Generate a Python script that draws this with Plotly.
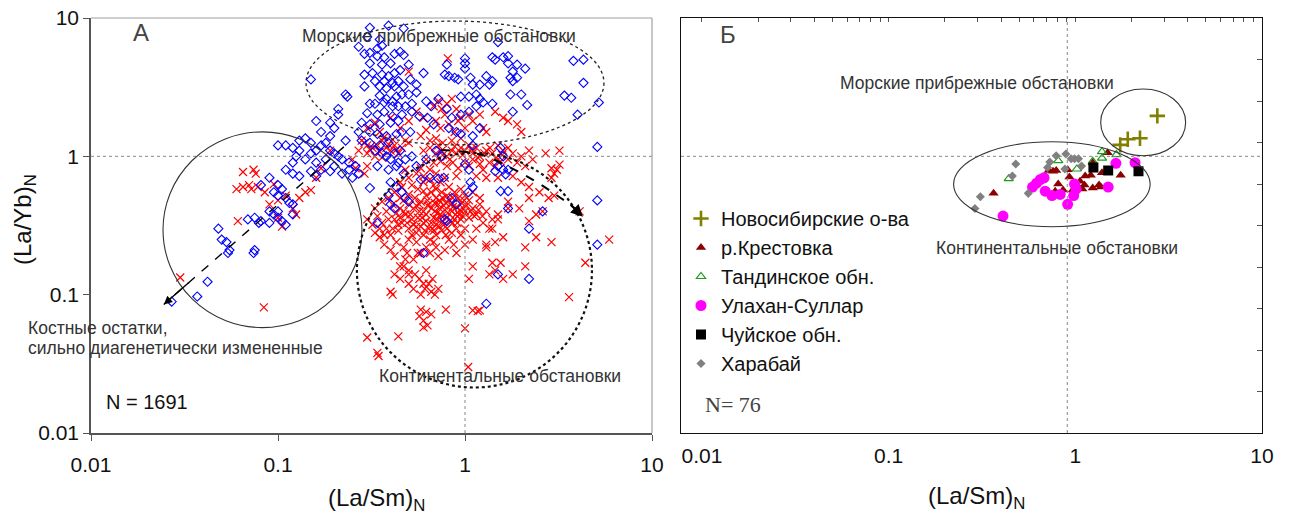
import math
import plotly.graph_objects as go

W, H = 1289, 518

# ---------------- Panel A data: (La/Sm)N , (La/Yb)N ----------------
blue_marine = [
    (0.39, 8.8), (0.31, 8.5), (0.47, 8.4), (0.30, 7.3), (0.35, 7.0), (0.27, 6.2), (0.34, 6.0), (0.36, 6.3),
    (0.29, 5.5), (0.31, 5.6), (0.34, 5.3), (0.37, 5.2), (0.42, 5.5), (0.45, 5.7), (0.47, 5.4), (0.31, 4.7),
    (0.36, 4.6), (0.40, 4.7), (0.50, 4.6), (0.29, 3.9), (0.32, 4.0), (0.36, 3.9), (0.39, 3.8), (0.42, 4.0),
    (0.45, 4.2), (0.33, 3.5), (0.37, 3.5), (0.41, 3.4), (0.44, 3.5), (0.51, 3.6), (0.55, 3.3), (0.60, 4.0),
    (0.29, 3.2), (0.35, 3.2), (0.38, 3.1), (0.42, 3.2), (0.47, 3.2), (0.15, 3.6), (0.23, 2.8), (0.235, 2.7),
    (0.35, 2.75), (0.38, 2.6), (0.41, 2.5), (0.43, 2.7), (0.46, 2.8), (0.50, 2.8), (0.55, 2.9), (0.31, 2.4),
    (0.33, 2.4), (0.37, 2.45), (0.41, 2.3), (0.44, 2.3), (0.48, 2.3), (0.52, 2.4), (0.21, 2.2), (0.21, 2.0),
    (0.30, 2.05), (0.34, 2.0), (0.37, 2.1), (0.41, 1.95), (0.46, 2.0), (0.52, 2.1), (0.57, 1.95), (0.16, 1.8),
    (0.19, 1.75), (0.28, 1.75), (0.31, 1.7), (0.35, 1.7), (0.40, 1.75), (0.44, 1.8), (0.27, 1.5), (0.31, 1.5),
    (0.34, 1.45), (0.38, 1.4), (0.43, 1.45), (0.46, 1.5), (0.51, 1.5),
]
blue_marine_right = [
    (1.5, 6.7), (1.4, 5.2), (1.45, 5.0), (1.6, 5.2), (1.7, 5.3), (1.7, 4.7), (1.9, 4.6), (2.1, 4.3), (1.8, 4.1),
    (1.0, 5.1), (1.0, 4.7), (1.0, 4.3), (0.8, 4.6), (0.78, 3.9), (0.82, 3.8), (0.88, 3.7), (0.92, 3.6),
    (1.07, 3.7), (1.1, 3.3), (1.2, 3.3), (1.3, 3.8), (1.4, 3.5), (1.35, 3.3), (1.75, 3.7), (1.8, 3.5), (1.9, 3.7),
    (0.95, 2.7), (1.05, 2.7), (1.15, 2.8), (1.2, 2.6), (1.25, 2.45), (1.4, 2.4), (1.75, 2.8), (2.0, 2.8),
    (2.15, 2.35), (1.8, 2.1), (3.8, 4.9), (4.3, 5.0), (4.3, 3.4), (3.4, 2.75), (3.7, 2.65), (4.0, 2.0), (5.2, 2.45),
    (0.8, 2.2), (0.85, 1.9), (0.95, 2.0), (1.05, 2.1), (1.15, 2.3), (0.82, 1.6), (0.9, 1.5), (1.2, 1.6),
    (1.1, 1.4), (0.95, 1.45), (0.63, 1.9), (0.68, 1.7), (0.62, 2.5), (0.66, 2.3), (0.72, 2.6),
]
blue_center = [
    (0.28, 1.3), (0.31, 1.25), (0.35, 1.2), (0.39, 1.25), (0.33, 1.1), (0.36, 1.05), (0.38, 1.0), (0.42, 1.05),
    (0.45, 1.1), (0.40, 0.95), (0.44, 0.9), (0.48, 0.95), (0.52, 1.0), (0.34, 0.85), (0.39, 0.8), (0.43, 0.85),
    (0.47, 0.75), (0.31, 0.59), (0.40, 0.65), (0.43, 0.6), (0.46, 0.55), (0.48, 0.5), (0.50, 0.47), (0.40, 0.45),
    (0.42, 0.42), (0.39, 0.52), (0.58, 0.68), (0.65, 0.7), (0.72, 0.69), (0.77, 0.7), (0.85, 0.5), (0.9, 0.45),
    (1.04, 0.55), (1.1, 0.6), (0.78, 0.35), (0.8, 0.34), (0.34, 0.33), (0.6, 0.2), (0.55, 0.85), (0.62, 0.95),
    (0.7, 1.1), (0.75, 1.0),
]
blue_right = [
    (5.1, 1.17), (5.1, 0.48), (5.1, 0.23), (1.55, 0.56), (1.7, 0.56), (1.7, 0.42), (2.6, 0.40), (2.2, 0.30),
    (1.07, 0.65), (1.0, 0.88), (1.05, 0.8), (1.5, 0.85), (1.45, 0.78), (1.6, 0.8), (1.7, 0.8), (1.65, 0.74),
    (1.6, 1.0), (1.55, 1.15), (1.1, 1.2), (1.5, 0.14), (2.2, 0.13), (1.3, 0.086),
]
blue_band_upper = [
    (0.10, 1.2), (0.11, 1.2), (0.12, 1.15), (0.13, 1.1), (0.125, 1.0), (0.14, 0.95), (0.15, 1.05), (0.16, 1.1),
    (0.17, 1.2), (0.18, 1.25), (0.19, 1.1), (0.2, 1.05), (0.21, 1.0), (0.22, 0.95), (0.24, 0.9), (0.26, 0.85),
    (0.27, 0.75), (0.25, 0.7), (0.13, 1.3), (0.15, 1.25), (0.14, 1.35), (0.2, 1.6), (0.17, 1.5), (0.19, 1.4),
    (0.23, 1.3), (0.11, 0.8), (0.12, 0.75), (0.13, 0.72), (0.15, 0.78), (0.16, 0.72), (0.17, 0.8), (0.19, 0.78),
    (0.2, 0.85), (0.22, 0.75), (0.24, 0.8), (0.18, 0.95), (0.16, 0.9), (0.12, 0.9),
]
blue_band_lower = [
    (0.09, 0.7), (0.1, 0.62), (0.095, 0.55), (0.1, 0.52), (0.105, 0.58), (0.11, 0.5), (0.081, 0.62), (0.115, 0.46),
    (0.12, 0.45), (0.09, 0.4), (0.095, 0.38), (0.1, 0.36), (0.1, 0.4), (0.105, 0.34), (0.11, 0.32), (0.09, 0.33),
    (0.12, 0.38), (0.069, 0.35), (0.075, 0.36), (0.081, 0.34), (0.079, 0.33), (0.074, 0.2), (0.075, 0.21),
    (0.05, 0.25), (0.048, 0.3), (0.053, 0.24), (0.054, 0.2), (0.055, 0.21), (0.042, 0.124), (0.037, 0.097),
    (0.027, 0.089),
]

red_bone = [
    (0.030, 0.133), (0.084, 0.081), (0.061, 0.34), (0.065, 0.6), (0.07, 0.62), (0.074, 0.8), (0.076, 0.75),
    (0.072, 0.58), (0.078, 0.6), (0.085, 0.55), (0.095, 0.63), (0.11, 0.52), (0.10, 0.48), (0.09, 0.45),
    (0.12, 0.42), (0.125, 0.38), (0.105, 0.31), (0.1, 0.36), (0.13, 0.5), (0.14, 0.55), (0.15, 0.57),
    (0.17, 0.82), (0.19, 1.1), (0.29, 0.75), (0.16, 0.7), (0.06, 0.58), (0.065, 0.77),
]
red_upper = [
    (0.81, 5.1), (0.5, 4.1),
    (0.68, 2.3), (0.72, 2.5), (0.75, 2.2), (0.78, 2.0), (0.8, 2.4), (0.85, 2.6), (0.9, 2.2), (0.95, 1.9),
    (0.7, 1.8), (0.74, 1.6), (0.82, 1.7), (0.88, 1.5), (0.92, 1.8), (1.0, 1.6), (1.05, 2.0), (1.1, 1.8),
    (1.2, 2.0), (1.25, 1.6), (1.3, 1.5), (1.6, 1.9), (1.7, 1.8), (1.9, 1.7), (2.0, 1.5), (1.45, 2.1),
    (0.6, 1.9), (0.55, 2.1), (0.5, 1.8), (0.45, 1.6), (0.4, 1.9), (0.33, 1.75), (0.3, 1.6), (0.35, 1.5),
    (0.62, 1.55), (0.58, 1.4), (0.65, 1.3), (0.7, 1.35), (0.76, 1.25), (0.85, 1.3), (0.95, 1.35),
]
red_y1_left = [
    (0.28, 1.3), (0.3, 1.2), (0.32, 1.15), (0.34, 1.2), (0.36, 1.3), (0.38, 1.15), (0.4, 1.1), (0.42, 1.2),
    (0.44, 1.05), (0.46, 1.15), (0.48, 1.3), (0.5, 1.25), (0.3, 1.05), (0.33, 1.0), (0.36, 0.98), (0.27, 1.1),
    (0.25, 0.95), (0.26, 0.82), (0.3, 0.85), (0.31, 1.12), (0.35, 1.08), (0.39, 1.22), (0.43, 1.12),
    (0.29, 1.25), (0.37, 1.38), (0.41, 1.32),
]
red_y1_right = [
    (0.6, 1.1), (0.65, 1.15), (0.7, 1.05), (0.72, 1.2), (0.75, 1.1), (0.8, 1.0), (0.85, 1.1), (0.9, 1.05),
    (0.95, 1.15), (1.0, 1.1), (1.05, 1.2), (1.1, 1.05), (1.15, 1.15), (1.2, 1.0), (1.3, 1.1), (1.4, 1.05),
    (1.5, 1.2), (1.6, 1.1), (1.7, 1.15), (1.8, 1.05), (2.0, 1.0), (2.2, 1.1), (0.62, 0.95), (0.68, 0.9),
    (0.74, 0.92), (0.8, 0.85), (0.86, 0.9), (0.92, 0.82), (1.0, 0.9), (1.05, 0.85), (1.1, 0.95), (1.2, 0.88),
    (1.25, 0.8), (1.35, 0.9), (1.45, 0.85), (1.55, 0.92), (1.7, 0.95), (1.9, 0.9), (2.1, 0.85), (2.3, 0.95),
    (2.7, 1.05), (2.9, 0.82), (3.0, 0.75), (2.9, 0.7), (0.65, 0.8), (0.7, 0.75), (0.78, 0.7), (0.9, 0.72),
    (1.15, 0.72), (1.3, 0.7), (1.5, 0.7), (1.8, 0.72), (2.0, 0.65), (2.2, 0.6), (2.5, 0.55), (2.8, 0.5),
    (3.0, 0.52), (3.2, 1.1), (3.1, 0.8), (3.2, 0.87),
    (0.45, 0.65), (0.5, 0.7), (0.55, 0.75), (0.6, 0.72), (0.65, 0.68), (0.48, 0.8), (0.58, 0.82),
    (0.88, 1.18), (0.97, 1.02), (1.08, 1.12), (1.17, 0.98), (1.27, 1.05), (1.36, 1.15), (1.46, 0.97),
    (1.58, 1.02), (0.76, 1.02), (0.83, 0.95),
]
red_core = [
    (0.5, 0.3), (0.52, 0.35), (0.55, 0.28), (0.57, 0.4), (0.6, 0.33), (0.62, 0.38), (0.64, 0.3), (0.66, 0.42),
    (0.68, 0.36), (0.7, 0.32), (0.72, 0.45), (0.74, 0.38), (0.76, 0.34), (0.78, 0.41), (0.8, 0.36), (0.82, 0.48),
    (0.85, 0.4), (0.88, 0.35), (0.9, 0.43), (0.93, 0.38), (0.96, 0.46), (1.0, 0.4), (1.05, 0.36), (1.1, 0.42),
    (1.15, 0.38), (1.2, 0.45), (1.3, 0.4), (1.4, 0.35), (1.5, 0.38), (0.48, 0.38), (0.46, 0.33), (0.44, 0.29),
    (0.42, 0.35), (0.45, 0.42), (0.5, 0.45), (0.54, 0.5), (0.58, 0.47), (0.62, 0.52), (0.66, 0.55), (0.7, 0.5),
    (0.75, 0.55), (0.8, 0.52), (0.6, 0.27), (0.65, 0.25), (0.7, 0.27), (0.75, 0.29), (0.8, 0.3), (0.85, 0.28),
    (0.9, 0.3), (0.55, 0.24), (0.5, 0.25), (0.47, 0.22), (0.43, 0.24), (0.4, 0.27), (0.38, 0.3), (0.36, 0.33),
    (0.38, 0.4), (0.41, 0.45), (0.39, 0.5), (0.42, 0.55), (0.46, 0.6), (0.52, 0.62), (0.56, 0.58), (0.6, 0.65),
    (0.68, 0.62), (0.74, 0.65), (0.82, 0.6), (0.88, 0.55), (0.95, 0.58), (1.0, 0.52), (1.05, 0.48), (1.1, 0.55),
    (1.2, 0.5), (1.25, 0.33), (1.35, 0.3), (1.15, 0.3), (1.0, 0.3), (0.95, 0.27), (0.7, 0.22), (0.65, 0.2),
    (0.58, 0.2), (0.53, 0.18), (0.48, 0.18), (0.45, 0.16), (0.42, 0.19), (0.4, 0.21), (0.37, 0.23), (0.35, 0.26),
    (0.33, 0.28), (0.3, 0.35), (0.33, 0.42), (0.36, 0.47), (0.56, 0.2), (0.62, 0.15), (0.57, 0.13), (0.54, 0.14),
    (0.6, 0.12), (0.5, 0.15), (0.72, 0.19), (0.78, 0.21), (0.9, 0.2), (1.0, 0.23), (1.1, 0.25), (1.3, 0.23),
    (0.95, 0.35), (0.86, 0.33), (0.63, 0.44), (0.55, 0.44), (0.47, 0.48), (0.73, 0.48), (0.77, 0.44), (0.68, 0.29),
    (0.59, 0.36), (0.53, 0.32), (0.71, 0.39), (0.84, 0.45), (0.92, 0.5), (0.98, 0.42),
]
red_core_dense = [
    (0.45, 0.36), (0.47, 0.4), (0.49, 0.33), (0.51, 0.38), (0.53, 0.42), (0.56, 0.36), (0.58, 0.31), (0.6, 0.4),
    (0.62, 0.34), (0.64, 0.45), (0.66, 0.33), (0.69, 0.4), (0.71, 0.35), (0.73, 0.42), (0.75, 0.37), (0.77, 0.32),
    (0.79, 0.46), (0.81, 0.39), (0.83, 0.34), (0.86, 0.43), (0.89, 0.38), (0.91, 0.33), (0.94, 0.41), (0.97, 0.37),
    (1.02, 0.44), (1.07, 0.4), (1.12, 0.37), (1.18, 0.41), (1.24, 0.37), (0.55, 0.31), (0.61, 0.29), (0.67, 0.3),
    (0.73, 0.31), (0.79, 0.27), (0.52, 0.27), (0.44, 0.32), (0.41, 0.3), (0.39, 0.35), (0.43, 0.39), (0.57, 0.45),
    (0.63, 0.48), (0.69, 0.46), (0.76, 0.5), (0.86, 0.5), (0.99, 0.48), (0.6, 0.56), (0.7, 0.58), (0.5, 0.53),
    (0.45, 0.5), (0.35, 0.3), (0.32, 0.32), (0.34, 0.37), (0.37, 0.27), (0.49, 0.2), (0.62, 0.22), (0.68, 0.24),
    (0.82, 0.25), (0.87, 0.23),
]
red_right = [
    (2.2, 0.5), (1.95, 0.42), (2.2, 0.34), (2.4, 0.38), (2.6, 0.4), (2.4, 0.26), (2.9, 0.24), (2.1, 0.22),
    (4.1, 0.4), (5.9, 0.25), (1.3, 0.22), (1.45, 0.24), (1.6, 0.26), (1.4, 0.3), (1.5, 0.35), (1.7, 0.42),
    (1.7, 0.47), (4.4, 0.17), (3.6, 0.096), (2.1, 0.16), (1.8, 0.14),
]
red_tail = [
    (1.6, 0.13), (1.45, 0.15), (1.35, 0.14), (1.55, 0.17), (1.4, 0.17), (1.1, 0.16), (1.05, 0.13),
    (1.1, 0.077), (1.17, 0.076), (1.2, 0.077), (1.0, 0.057), (1.04, 0.03), (0.3, 0.049), (0.34, 0.038),
    (0.345, 0.036), (0.44, 0.05), (0.79, 0.078), (0.57, 0.07), (0.6, 0.065), (0.58, 0.078), (0.62, 0.075),
    (0.66, 0.072), (0.63, 0.06), (0.6, 0.058), (0.4, 0.105), (0.41, 0.1), (0.5, 0.12), (0.53, 0.11),
    (0.58, 0.1), (0.61, 0.11), (0.64, 0.12), (0.67, 0.13), (0.72, 0.11), (0.69, 0.1), (0.66, 0.105),
    (0.42, 0.14), (0.45, 0.13), (0.47, 0.16), (0.5, 0.14),
]

# ---------------- Panel B data ----------------
novo_x = [2.75, 1.91, 2.22, 1.74]
novo_y = [1.96, 1.33, 1.35, 1.21]
krest_x = [1.49, 1.24, 0.72, 0.76, 0.79, 0.91, 0.93, 1.39, 1.75, 1.13, 1.21, 1.06, 1.12, 1.05, 1.24, 1.34,
           1.37, 0.81, 0.86, 0.78, 0.97, 1.09, 0.365]
krest_y = [1.06, 0.90, 0.79, 0.78, 0.79, 0.80, 0.71, 0.76, 0.73, 0.72, 0.73, 0.66, 0.62, 0.59, 0.59, 0.62,
           0.60, 0.63, 0.57, 0.56, 0.57, 0.58, 0.54]
tand_x = [1.39, 1.66, 1.39, 1.24, 1.02, 0.81, 0.44]
tand_y = [1.08, 1.03, 0.97, 0.92, 0.81, 0.93, 0.69]
ulakh_x = [2.09, 1.65, 1.50, 0.99, 1.01, 0.98, 0.91, 0.75, 0.83, 0.69, 0.59, 0.62, 0.65, 0.68, 0.41]
ulakh_y = [0.90, 0.89, 0.60, 0.63, 0.58, 0.52, 0.45, 0.52, 0.53, 0.56, 0.60, 0.64, 0.68, 0.70, 0.37]
chuy_x = [1.25, 1.50, 2.18]
chuy_y = [0.83, 0.79, 0.78]
khar_x = [0.79, 0.89, 0.95, 0.99, 1.04, 0.73, 0.71, 0.88, 1.08, 0.48, 0.46, 0.31, 0.29, 0.56]
khar_y = [1.01, 1.04, 0.96, 0.96, 0.96, 0.91, 0.83, 0.81, 0.85, 0.88, 0.72, 0.51, 0.42, 0.54]

tick_vals = [0.01, 0.1, 1, 10]
tick_text = ["0.01", "0.1", "1", "10"]

# ---------------- layout geometry ----------------
def px_x(p):
    return p / W

def px_y(p):
    return 1 - p / H

xa_dom = [px_x(91), px_x(652)]
xb_dom = [px_x(681), px_x(1262)]
y_dom = [px_y(433), px_y(18)]

FONT = "Liberation Sans, Arial, sans-serif"
TXT = "#333333"

fig = go.Figure()

def split(pts):
    return [p[0] for p in pts], [p[1] for p in pts]

red_all = red_bone + red_upper + red_y1_left + red_y1_right + red_core + red_core_dense + red_right + red_tail
blue_all = blue_marine + blue_marine_right + blue_center + blue_right + blue_band_upper + blue_band_lower

rx, ry = split(red_all)
bx, by = split(blue_all)

fig.add_trace(go.Scatter(x=rx, y=ry, mode="markers", xaxis="x", yaxis="y", showlegend=False,
                         marker=dict(symbol="x-thin", size=8, line=dict(color="#ff0000", width=1.2),
                                     color="#ff0000")))
fig.add_trace(go.Scatter(x=bx, y=by, mode="markers", xaxis="x", yaxis="y", showlegend=False,
                         marker=dict(symbol="diamond-open", size=7, color="#0000ff",
                                     line=dict(width=1.1))))

# dashed arrow guides in panel A
bone_arrow = [(0.225, 1.17), (0.0245, 0.085)]
cont_arrow = [(0.745, 1.11), (1.22, 1.026), (1.76, 0.826), (2.40, 0.655), (3.07, 0.527),
              (3.78, 0.431), (4.27, 0.366)]
ax_, ay_ = split(bone_arrow)
fig.add_trace(go.Scatter(x=ax_, y=ay_, mode="lines", xaxis="x", yaxis="y", showlegend=False,
                         line=dict(color="black", width=1.4, dash="dash"), hoverinfo="skip"))
cx_, cy_ = split(cont_arrow)
fig.add_trace(go.Scatter(x=cx_, y=cy_, mode="lines", xaxis="x", yaxis="y", showlegend=False,
                         line=dict(color="black", width=2, dash="dash", shape="spline"), hoverinfo="skip"))

# Panel B series
series_b = [
    ("Новосибирские о-ва", novo_x, novo_y, dict(symbol="cross-thin", size=11, color="#808000",
                                                  line=dict(color="#808000", width=2.6))),
    ("р.Крестовка", krest_x, krest_y, dict(symbol="triangle-up", size=9, color="#8b0000")),
    ("Тандинское обн.", tand_x, tand_y, dict(symbol="triangle-up-open", size=8, color="#1f9a1f",
                                               line=dict(width=1.2))),
    ("Улахан-Суллар", ulakh_x, ulakh_y, dict(symbol="circle", size=11, color="#ff00ff")),
    ("Чуйское обн.", chuy_x, chuy_y, dict(symbol="square", size=10, color="#000000")),
    ("Харабай", khar_x, khar_y, dict(symbol="diamond", size=7, color="#808080")),
]
for name, xs, ys, mk in series_b:
    fig.add_trace(go.Scatter(x=xs, y=ys, mode="markers", name=name, xaxis="x2", yaxis="y2", marker=mk))

# empty traces to activate decorative overlay axes
fig.add_trace(go.Scatter(x=[], y=[], xaxis="x3", yaxis="y2", showlegend=False))
fig.add_trace(go.Scatter(x=[], y=[], xaxis="x2", yaxis="y3", showlegend=False))

lg = math.log10
E = lambda v: 10 ** v

shapes = []
# panel A reference lines
shapes.append(dict(type="line", xref="x", yref="y domain", x0=1, x1=1, y0=0, y1=1,
                   line=dict(color="#888888", width=1, dash="dot")))
shapes.append(dict(type="line", xref="x domain", yref="y", x0=0, x1=1, y0=1, y1=1,
                   line=dict(color="#888888", width=1, dash="dot")))
# panel A top/right light border
shapes.append(dict(type="line", xref="x domain", yref="y domain", x0=0, x1=1, y0=1, y1=1,
                   line=dict(color="#a0a0a0", width=1.2)))
shapes.append(dict(type="line", xref="x domain", yref="y domain", x0=1, x1=1, y0=0, y1=1,
                   line=dict(color="#a0a0a0", width=1.2)))
# panel A ellipses
shapes.append(dict(type="circle", xref="x", yref="y", x0=E(-0.850), x1=E(0.743), y0=E(0.083), y1=E(0.978),
                   line=dict(color="#222222", width=1.3, dash="dot")))
shapes.append(dict(type="circle", xref="x", yref="y", x0=E(-1.615), x1=E(-0.551), y0=E(-1.238), y1=E(0.177),
                   line=dict(color="#333333", width=1.1)))
shapes.append(dict(type="circle", xref="x", yref="y", x0=E(-0.578), x1=E(0.679), y0=E(-1.671), y1=E(0.025),
                   line=dict(color="#111111", width=2.2, dash="dot")))
# panel B reference lines
shapes.append(dict(type="line", xref="x2", yref="y2 domain", x0=E(-0.043), x1=E(-0.043), y0=0, y1=1,
                   line=dict(color="#888888", width=1, dash="dot")))
shapes.append(dict(type="line", xref="x2 domain", yref="y2", x0=0, x1=1, y0=1, y1=1,
                   line=dict(color="#888888", width=1, dash="dot")))
# panel B ellipses
shapes.append(dict(type="circle", xref="x2", yref="y2", x0=E(0.136), x1=E(0.591), y0=E(0.004), y1=E(0.487),
                   line=dict(color="#333333", width=1.1)))
shapes.append(dict(type="circle", xref="x2", yref="y2", x0=E(-0.652), x1=E(0.401), y0=E(-0.509), y1=E(0.105),
                   line=dict(color="#333333", width=1.1)))

annotations = []

def txt(px, py, text, size=16, color=TXT, xanchor="center", family=FONT, angle=0):
    annotations.append(dict(x=px_x(px), y=px_y(py), xref="paper", yref="paper", text=text,
                            showarrow=False, xanchor=xanchor, yanchor="middle", textangle=angle,
                            font=dict(size=size, color=color, family=family)))

txt(141, 33, "А", size=24, color="#444444")
txt(439, 36, "Морские прибрежные обстановки", size=17.5)
txt(26, 328, "Костные остатки,", size=17.5, xanchor="left")
txt(26, 348, "сильно диагенетически измененные", size=17.5, xanchor="left")
txt(377, 376, "Континентальные обстановки", size=17.5, xanchor="left")
txt(104, 402, "N = 1691", size=20, color="#111111", xanchor="left")
txt(24, 220, "(La/Yb)<sub>N</sub>", size=24, color="#111111", angle=-90)
txt(377, 499, "(La/Sm)<sub>N</sub>", size=24, color="#111111")
txt(728, 35, "Б", size=24, color="#444444")
txt(977, 83, "Морские прибрежные обстановки", size=17.5)
txt(1057, 248, "Континентальные обстановки", size=17.5)
txt(703, 404, "N= 76", size=22, color="#444444", xanchor="left", family="Liberation Serif, serif")
txt(976, 497, "(La/Sm)<sub>N</sub>", size=24, color="#111111")

# arrowheads (annotation coordinates on log axes are log10 values)
annotations.append(dict(x=lg(0.0245), y=lg(0.085), ax=lg(0.034), ay=lg(0.125), xref="x", yref="y",
                        axref="x", ayref="y", text="", showarrow=True, arrowhead=2, arrowsize=1.2,
                        arrowwidth=1.4, arrowcolor="black"))
annotations.append(dict(x=lg(4.27), y=lg(0.366), ax=lg(3.6), ay=lg(0.46), xref="x", yref="y",
                        axref="x", ayref="y", text="", showarrow=True, arrowhead=2, arrowsize=1.2,
                        arrowwidth=2, arrowcolor="black"))

minor_top = [m * 10 ** k for k in (-2, -1, 0) for m in range(1, 10)] + [10]

fig.update_layout(
    width=W, height=H,
    margin=dict(l=0, r=0, t=0, b=0, autoexpand=False),
    paper_bgcolor="white", plot_bgcolor="white",
    font=dict(family=FONT, color="#111111"),
    showlegend=True,
    legend=dict(x=px_x(681), y=px_y(199), xanchor="left", yanchor="top", bgcolor="rgba(0,0,0,0)",
                font=dict(size=20, color="#111111", family=FONT), itemwidth=30, tracegroupgap=0),
    xaxis=dict(domain=xa_dom, type="log", range=[-2, 1], anchor="y", tickvals=tick_vals, ticktext=tick_text,
               showgrid=False, zeroline=False, showline=True, linecolor="#555555", linewidth=1.6,
               ticks="outside", ticklen=6, tickcolor="#555555", tickfont=dict(size=21), ticklabelstandoff=6,
               automargin=False),
    yaxis=dict(domain=y_dom, type="log", range=[-2, 1], anchor="x", tickvals=tick_vals, ticktext=tick_text,
               showgrid=False, zeroline=False, showline=True, linecolor="#555555", linewidth=1.6,
               ticks="outside", ticklen=6, tickcolor="#555555", tickfont=dict(size=21), automargin=False),
    xaxis2=dict(domain=xb_dom, type="log", range=[-2.112, 1], anchor="y2", tickvals=tick_vals,
                ticktext=tick_text, showgrid=False, zeroline=False, showline=True, mirror=True,
                linecolor="#111111", linewidth=1.3, ticks="", tickfont=dict(size=21), ticklabelstandoff=4,
                automargin=False),
    yaxis2=dict(domain=y_dom, type="log", range=[-2, 1], anchor="x2", showticklabels=False, showgrid=False,
                zeroline=False, showline=True, mirror=True, linecolor="#111111", linewidth=1.3, ticks="",
                automargin=False),
    xaxis3=dict(type="log", range=[-2.112, 1], overlaying="x2", anchor="y2", side="top", tickvals=minor_top,
                ticks="inside", ticklen=4, tickcolor="#555555", showticklabels=False, showgrid=False,
                zeroline=False, showline=False, automargin=False),
    yaxis3=dict(range=[0, 10], overlaying="y2", anchor="x2", side="right", dtick=1, ticks="inside",
                ticklen=5, tickcolor="#555555", showticklabels=False, showgrid=False, zeroline=False,
                showline=False, automargin=False),
    shapes=shapes,
    annotations=annotations,
)

fig.write_html("out.html")
